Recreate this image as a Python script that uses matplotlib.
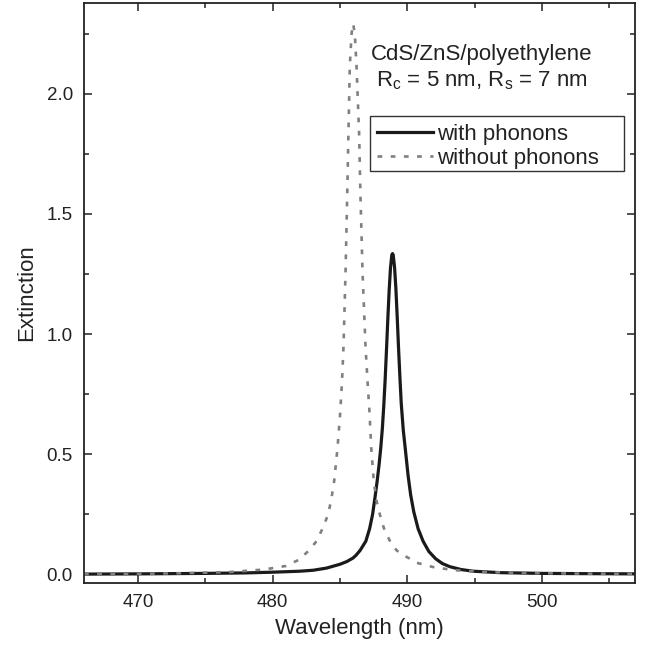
import numpy as np
import matplotlib
matplotlib.use("Agg")
import matplotlib.pyplot as plt
from matplotlib.ticker import MultipleLocator
from matplotlib.patches import Rectangle

plt.rcParams['font.family'] = ['Liberation Sans', 'DejaVu Sans']
plt.rcParams['mathtext.fontset'] = 'custom'
plt.rcParams['mathtext.rm'] = 'Liberation Sans'

# values
solid_x = [466, 470, 475, 478, 480, 482, 483, 484, 485, 485.5, 485.97, 486.2, 486.5, 486.92,
           487.2, 487.42, 487.6, 487.76, 487.9, 488.03, 488.15, 488.25, 488.35, 488.45,
           488.55, 488.65, 488.75, 488.85, 488.9, 488.95, 489.05, 489.15, 489.25, 489.35,
           489.45, 489.55, 489.7, 489.84, 490.06, 490.25, 490.48, 490.8, 491.17, 491.6,
           492.1, 492.6, 493.15, 494.0, 494.9, 496.9, 500, 503, 506.9]
solid_y = [0.001, 0.002, 0.004, 0.006, 0.009, 0.013, 0.017, 0.026, 0.042, 0.053, 0.068, 0.08,
           0.1, 0.138, 0.19, 0.249, 0.32, 0.388, 0.455, 0.527, 0.61, 0.70, 0.806, 0.93,
           1.06, 1.18, 1.275, 1.33, 1.335, 1.33, 1.28, 1.19, 1.07, 0.94,
           0.82, 0.71, 0.6, 0.527, 0.41, 0.33, 0.26, 0.19, 0.138, 0.095,
           0.065, 0.045, 0.032, 0.02, 0.013, 0.007, 0.004, 0.003, 0.002]

dotted_x = [466, 470, 473.4, 476.9, 479.35, 481, 482.0, 482.7, 483.26, 483.7, 484.12,
            484.35, 484.57, 484.82, 485.01, 485.15, 485.26, 485.41, 485.53, 485.63,
            485.73, 485.86, 485.98, 486.1, 486.23, 486.42, 486.53, 486.68, 486.9, 487.05,
            487.2, 487.32, 487.51, 487.7, 487.96, 488.3, 488.7, 489.2, 489.7, 490.2,
            490.7, 491.95, 493.4, 495.6, 499.3, 503, 506.9]
dotted_y = [0.001, 0.002, 0.005, 0.01, 0.02, 0.035, 0.062, 0.1, 0.138, 0.19, 0.249,
            0.31, 0.388, 0.527, 0.667, 0.8, 0.945, 1.25, 1.557, 1.836, 2.114, 2.25,
            2.292, 2.25, 2.114, 1.836, 1.557, 1.25, 0.945, 0.8, 0.667, 0.527, 0.388,
            0.31, 0.249, 0.185, 0.14, 0.1, 0.08, 0.065, 0.048, 0.03, 0.018, 0.01,
            0.005, 0.003, 0.002]

labels = ['with phonons', 'without phonons']

txt_col = '#222222'

fig = plt.figure(figsize=(6.57, 6.46), dpi=100)
ax = fig.add_axes([84/657, 1 - 583/646, 551/657, 580/646])

ax.plot(solid_x, solid_y, color='#1a1a1a', lw=2.3, label=labels[0])
ax.plot(dotted_x, dotted_y, color='#808080', lw=1.9, linestyle=(0, (1.8, 3.2)),
        label=labels[1])

ax.set_xlim(466, 506.9)
ax.set_ylim(-0.036, 2.378)

ax.xaxis.set_major_locator(MultipleLocator(10))
ax.xaxis.set_minor_locator(MultipleLocator(5))
ax.yaxis.set_major_locator(MultipleLocator(0.5))
ax.yaxis.set_minor_locator(MultipleLocator(0.25))
ax.yaxis.set_major_formatter(plt.FormatStrFormatter('%.1f'))

ax.tick_params(which='both', direction='in', top=True, right=True,
               colors=txt_col, labelsize=13.5, width=1.1)
ax.tick_params(which='major', length=6, pad=8)
ax.tick_params(which='minor', length=3.3)
for s in ax.spines.values():
    s.set_linewidth(1.3)
    s.set_color('#222222')

ax.set_xlabel('Wavelength (nm)', fontsize=16, color=txt_col, labelpad=5)
ax.set_ylabel('Extinction', fontsize=16, color=txt_col, labelpad=7)

ax.text(0.722, 0.901, 'CdS/ZnS/polyethylene', transform=ax.transAxes,
        ha='center', va='baseline', fontsize=16, color=txt_col)
ax.text(0.722, 0.856, r'R$_\mathrm{c}$ = 5 nm, R$_\mathrm{s}$ = 7 nm',
        transform=ax.transAxes, ha='center', va='baseline', fontsize=16, color=txt_col)

# legend box is wider than its entries, so draw the frame separately
box = Rectangle((0.519, 0.710), 0.461, 0.095, transform=ax.transAxes,
                facecolor='white', edgecolor='#333333', lw=1.0, zorder=4)
ax.add_patch(box)
leg = ax.legend(loc='upper left', bbox_to_anchor=(0.532, 0.792), borderaxespad=0,
                fontsize=16, frameon=False, handlelength=2.52,
                handletextpad=0.18, borderpad=0, labelspacing=0.15)
leg.set_zorder(5)
for t in leg.get_texts():
    t.set_color(txt_col)

fig.savefig('out.png', dpi=100)
